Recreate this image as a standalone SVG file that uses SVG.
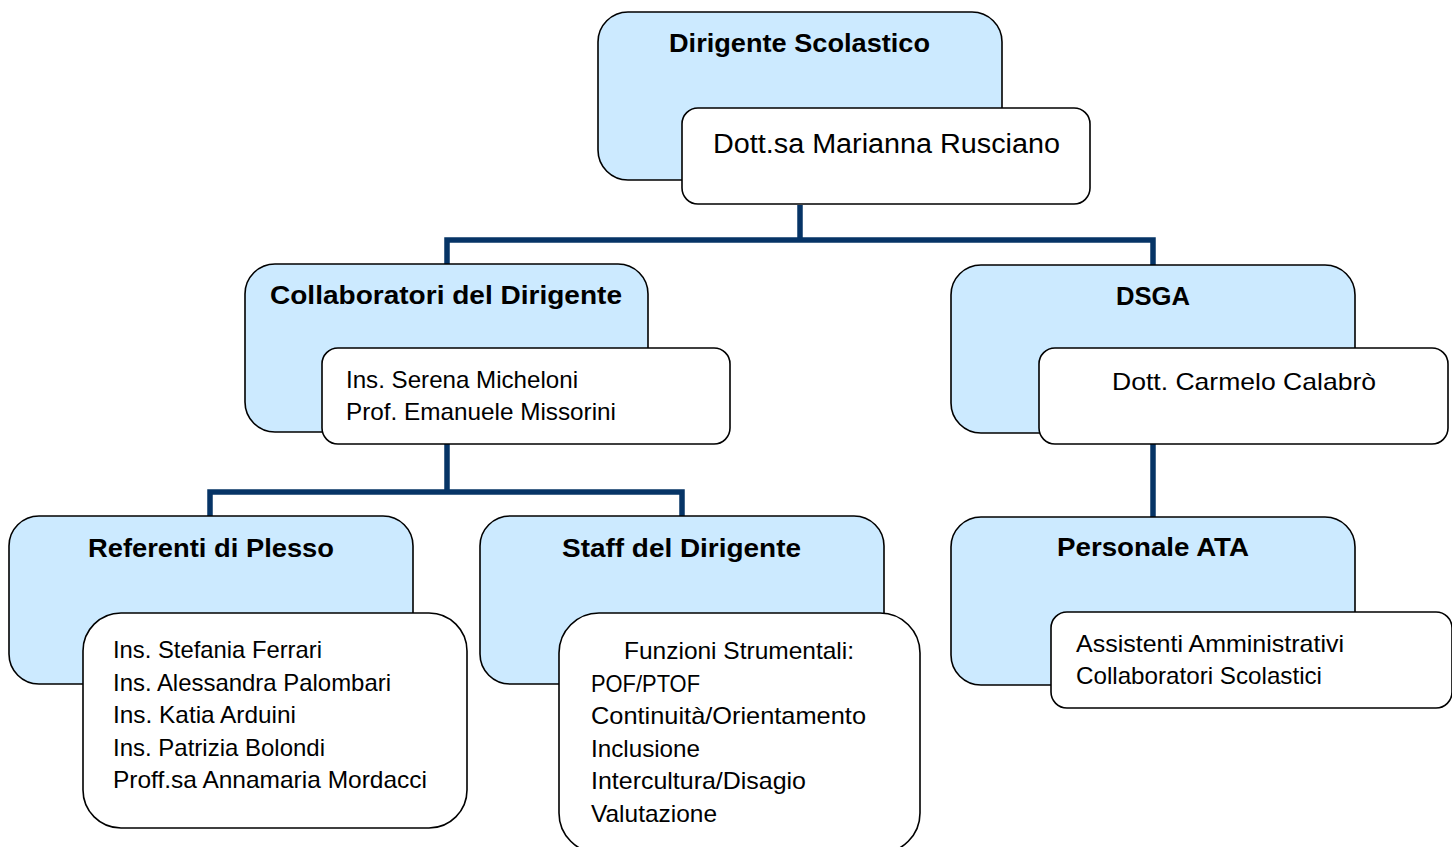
<svg xmlns="http://www.w3.org/2000/svg" width="1452" height="847" viewBox="0 0 1452 847">
<style>
.bg{fill:#ffffff}
.blue{fill:#cceaff;stroke:#000000;stroke-width:1.6}
.white{fill:#ffffff;stroke:#000000;stroke-width:1.6}
.conn{fill:none;stroke:#063466;stroke-width:5.5;stroke-linejoin:miter}
.t{font-family:"Liberation Sans",Arial,sans-serif;font-weight:bold;font-size:26px;fill:#000000}
.n{font-family:"Liberation Sans",Arial,sans-serif;font-size:24px;fill:#000000}
.nl{font-family:"Liberation Sans",Arial,sans-serif;font-size:27px;fill:#000000}
</style>
<rect class="bg" x="0" y="0" width="1452" height="847"/>
<g id="connectors">
<path class="conn" d="M800,205 V240"/>
<path class="conn" d="M447,265 V240 H1153 V265"/>
<path class="conn" d="M447,444 V492"/>
<path class="conn" d="M210,517 V492 H682 V517"/>
<path class="conn" d="M1153,444 V517"/>
</g>
<g id="dirigente">
<rect class="blue" x="598" y="12" width="404" height="168" rx="30" ry="30"/>
<rect class="white" x="682" y="108" width="408" height="96" rx="16" ry="16"/>
<text class="t" x="669" y="52" textLength="261" lengthAdjust="spacingAndGlyphs">Dirigente Scolastico</text>
<text class="nl" x="713" y="153" textLength="347" lengthAdjust="spacingAndGlyphs">Dott.sa Marianna Rusciano</text>
</g>
<g id="collaboratori">
<rect class="blue" x="245" y="264" width="403" height="168" rx="30" ry="30"/>
<rect class="white" x="322" y="348" width="408" height="96" rx="16" ry="16"/>
<text class="t" x="270" y="304" textLength="352" lengthAdjust="spacingAndGlyphs">Collaboratori del Dirigente</text>
<text class="n" x="346" y="388" textLength="232" lengthAdjust="spacingAndGlyphs">Ins. Serena Micheloni</text>
<text class="n" x="346" y="420" textLength="270" lengthAdjust="spacingAndGlyphs">Prof. Emanuele Missorini</text>
</g>
<g id="dsga">
<rect class="blue" x="951" y="265" width="404" height="168" rx="30" ry="30"/>
<rect class="white" x="1039" y="348" width="409" height="96" rx="16" ry="16"/>
<text class="t" x="1116" y="305" textLength="74" lengthAdjust="spacingAndGlyphs">DSGA</text>
<text class="n" x="1112" y="390" textLength="264" lengthAdjust="spacingAndGlyphs">Dott. Carmelo Calabrò</text>
</g>
<g id="referenti">
<rect class="blue" x="9" y="516" width="404" height="168" rx="30" ry="30"/>
<rect class="white" x="83" y="613" width="384" height="215" rx="38" ry="38"/>
<text class="t" x="88" y="557" textLength="246" lengthAdjust="spacingAndGlyphs">Referenti di Plesso</text>
<text class="n" x="113" y="658" textLength="209" lengthAdjust="spacingAndGlyphs">Ins. Stefania Ferrari</text>
<text class="n" x="113" y="691" textLength="278" lengthAdjust="spacingAndGlyphs">Ins. Alessandra Palombari</text>
<text class="n" x="113" y="723" textLength="183" lengthAdjust="spacingAndGlyphs">Ins. Katia Arduini</text>
<text class="n" x="113" y="756" textLength="212" lengthAdjust="spacingAndGlyphs">Ins. Patrizia Bolondi</text>
<text class="n" x="113" y="788" textLength="314" lengthAdjust="spacingAndGlyphs">Proff.sa Annamaria Mordacci</text>
</g>
<g id="staff">
<rect class="blue" x="480" y="516" width="404" height="168" rx="30" ry="30"/>
<rect class="white" x="559" y="613" width="361" height="240" rx="40" ry="40"/>
<text class="t" x="562" y="557" textLength="239" lengthAdjust="spacingAndGlyphs">Staff del Dirigente</text>
<text class="n" x="624" y="659" textLength="230" lengthAdjust="spacingAndGlyphs">Funzioni Strumentali:</text>
<text class="n" x="591" y="692" textLength="109" lengthAdjust="spacingAndGlyphs">POF/PTOF</text>
<text class="n" x="591" y="724" textLength="275" lengthAdjust="spacingAndGlyphs">Continuità/Orientamento</text>
<text class="n" x="591" y="757" textLength="109" lengthAdjust="spacingAndGlyphs">Inclusione</text>
<text class="n" x="591" y="789" textLength="215" lengthAdjust="spacingAndGlyphs">Intercultura/Disagio</text>
<text class="n" x="591" y="822" textLength="126" lengthAdjust="spacingAndGlyphs">Valutazione</text>
</g>
<g id="personale">
<rect class="blue" x="951" y="517" width="404" height="168" rx="30" ry="30"/>
<rect class="white" x="1051" y="612" width="401" height="96" rx="16" ry="16"/>
<text class="t" x="1057" y="556" textLength="192" lengthAdjust="spacingAndGlyphs">Personale ATA</text>
<text class="n" x="1076" y="652" textLength="268" lengthAdjust="spacingAndGlyphs">Assistenti Amministrativi</text>
<text class="n" x="1076" y="684" textLength="246" lengthAdjust="spacingAndGlyphs">Collaboratori Scolastici</text>
</g>
</svg>
